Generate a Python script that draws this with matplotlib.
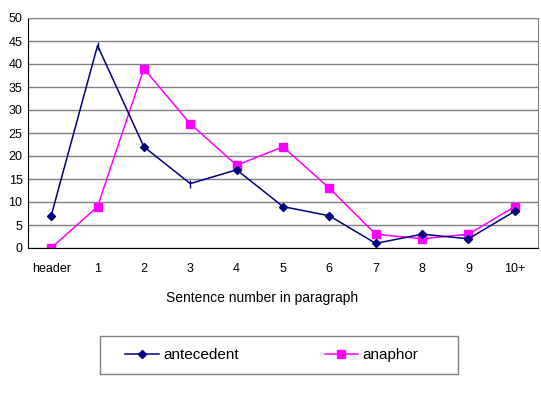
import matplotlib.pyplot as plt
import matplotlib.patches as patches
import numpy as np

categories = ['header', '1', '2', '3', '4', '5', '6', '7', '8', '9', '10+']
antecedent = [7, 44, 22, 14, 17, 9, 7, 1, 3, 2, 8]
anaphor = [0, 9, 39, 27, 18, 22, 13, 3, 2, 3, 9]

plt.rcParams['font.family'] = ['Liberation Sans', 'DejaVu Sans']

fig = plt.figure(figsize=(5.41, 3.96), dpi=100)
ax = fig.add_axes([28 / 541, 1 - 248 / 396, 510 / 541, 230 / 396])

x = np.arange(len(categories))
# diamonds missing on two points in the original, they show as small ticks
marked = [i for i in range(len(x)) if i not in (1, 3)]
ax.plot(x, antecedent, color='#000080', lw=1.1, marker='D', ms=4.5,
        markevery=marked, label='antecedent', zorder=3)
ax.plot([1, 3], [antecedent[1], antecedent[3]], ls='none', marker='|',
        ms=6, color='#000080', zorder=3)
ax.plot(x, anaphor, color='#ff00ff', lw=1.1, marker='s', ms=6,
        label='anaphor', zorder=2)

ax.set_xlim(-0.5, 10.5)
ax.set_ylim(0, 50)
ax.set_yticks(range(0, 51, 5))
ax.set_xticks(x)
ax.set_xticklabels(categories)
ax.tick_params(length=0, labelsize=9, colors='black')
ax.tick_params(axis='x', pad=11)
ax.tick_params(axis='y', pad=4)
ax.yaxis.grid(True, color='#808080', lw=1)
ax.set_axisbelow(True)
for s in ['top', 'right']:
    ax.spines[s].set_color('#808080')
ax.spines['left'].set_color('black')
ax.spines['bottom'].set_color('black')
fig.text(262 / 541, 1 - 298 / 396, 'Sentence number in paragraph',
         fontsize=10, ha='center', va='center')

# legend box drawn separately, it is wider than matplotlib's padding gives
box = patches.Rectangle((100 / 541, 1 - 374 / 396), 358 / 541, 38 / 396,
                        transform=fig.transFigure, fill=False,
                        edgecolor='#808080', lw=1)
fig.patches.append(box)
leg = fig.legend(loc='center', bbox_to_anchor=(272 / 541, 1 - 355 / 396),
                 ncol=2, frameon=False, fontsize=11,
                 handlelength=2.2, handletextpad=0.3, columnspacing=5.6,
                 borderpad=0, borderaxespad=0)

fig.savefig('out.png', dpi=100)
